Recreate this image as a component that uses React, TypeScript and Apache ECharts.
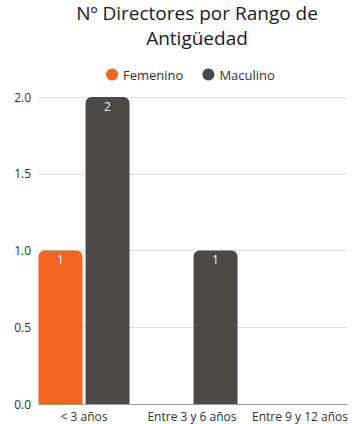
import React, { useEffect, useRef } from "react";
import * as echarts from "echarts";

const categories = ["< 3 años", "Entre 3 y 6 años", "Entre 9 y 12 años"];
const femenino = [1, null, null];
const masculino = [2, 1, null];
const seriesNames = ["Femenino", "Maculino"];
const yTicks = [0, 0.5, 1, 1.5, 2];

const ORANGE = "#F26522";
const GRAY = "#4B4A48";
const FONT = "Open Sans";

export default function App() {
  const ref = useRef<HTMLDivElement>(null);

  useEffect(() => {
    if (!ref.current) return;
    const chart = echarts.init(ref.current, null, { renderer: "svg" });
    const barLabel = {
      show: true,
      position: "insideTop",
      color: "#f2f2f2",
      fontSize: 12,
      fontFamily: FONT,
      distance: 3,
    };
    chart.setOption({
      animation: false,
      backgroundColor: "#ffffff",
      title: {
        text: "Nº Directores por Rango de\nAntigüedad",
        left: 192,
        top: -5,
        textAlign: "center",
        textStyle: {
          fontFamily: FONT,
          fontSize: 19,
          fontWeight: "normal",
          color: "#1a1a1a",
          lineHeight: 25,
        },
      },
      legend: {
        data: seriesNames,
        orient: "horizontal",
        top: 63,
        left: 101,
        icon: "circle",
        itemWidth: 12,
        itemHeight: 12,
        itemGap: 19,
        textStyle: { fontFamily: FONT, fontSize: 13, color: "#333" },
      },
      grid: [
        { left: 39, right: 14, top: 97, bottom: 20 },
        { left: 30, right: 7, top: 97, bottom: 20 },
      ],
      xAxis: [
        {
          type: "category",
          gridIndex: 0,
          data: categories,
          axisLine: { show: true, lineStyle: { color: "#9a9a9a", width: 1 } },
          axisTick: { show: false },
          axisLabel: { show: false },
        },
        {
          type: "category",
          gridIndex: 1,
          data: categories,
          axisLine: { show: false },
          axisTick: { show: false },
          axisLabel: {
            fontFamily: FONT,
            fontSize: 12,
            color: "#333",
            margin: 6,
            interval: 0,
          },
        },
      ],
      yAxis: [
        {
          type: "value",
          gridIndex: 0,
          min: yTicks[0],
          max: yTicks[yTicks.length - 1],
          interval: 0.5,
          axisLabel: {
            fontFamily: FONT,
            fontSize: 12,
            color: "#333",
            margin: 8,
            formatter: (v: number) => v.toFixed(1),
          },
          splitLine: { lineStyle: { color: "#dedede", width: 1 } },
          axisLine: { show: false },
          axisTick: { show: false },
        },
        {
          type: "value",
          gridIndex: 1,
          min: yTicks[0],
          max: yTicks[yTicks.length - 1],
          show: false,
          splitLine: { show: false },
        },
      ],
      series: [
        {
          name: seriesNames[0],
          type: "bar",
          xAxisIndex: 1,
          yAxisIndex: 1,
          data: femenino,
          barWidth: 44,
          barGap: "7%",
          itemStyle: { color: ORANGE, borderRadius: [6, 6, 0, 0] },
          label: barLabel,
        },
        {
          name: seriesNames[1],
          type: "bar",
          xAxisIndex: 1,
          yAxisIndex: 1,
          data: masculino,
          barWidth: 44,
          barGap: "7%",
          itemStyle: { color: GRAY, borderRadius: [6, 6, 0, 0] },
          label: barLabel,
        },
      ],
    });
    return () => chart.dispose();
  }, []);

  return (
    <div
      ref={ref}
      style={{ position: "fixed", left: 0, top: 0, width: 361, height: 424 }}
    />
  );
}
